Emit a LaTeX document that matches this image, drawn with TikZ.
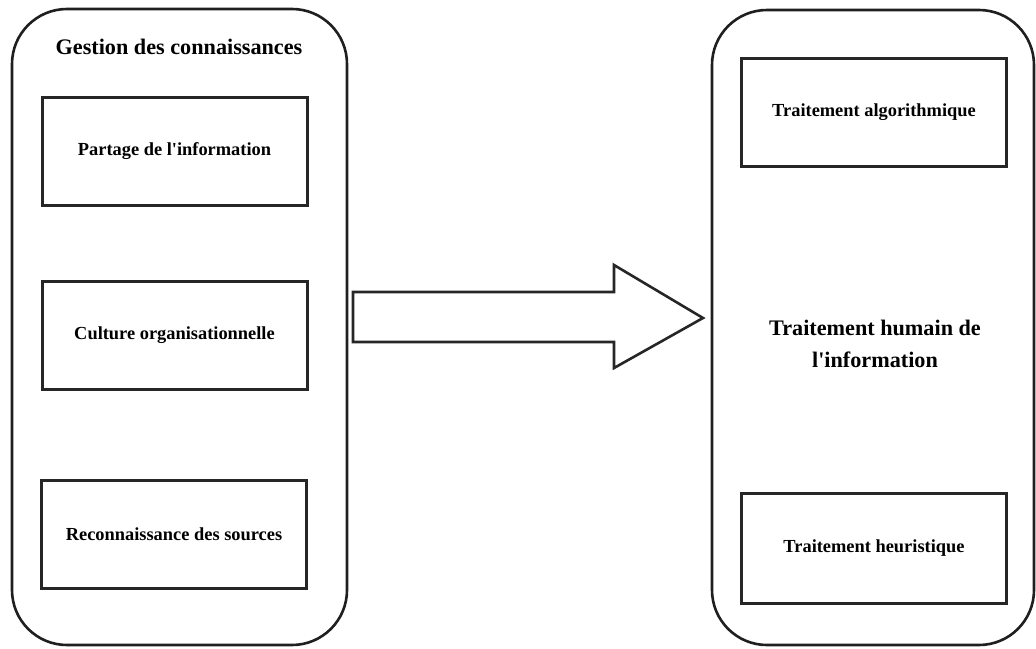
\documentclass[tikz,border=0pt]{standalone}
\usepackage{fontspec}
\newfontfamily\plainserif{Liberation Serif}
\begin{document}
\begin{tikzpicture}[x=1pt,y=-1pt,
  container/.style={draw=black!88,line width=2.6pt,rounded corners=55pt},
  itembox/.style={draw=black!85,line width=3pt,minimum width=265pt,minimum height=108pt,inner sep=0pt},
  itemtext/.style={font=\plainserif\bfseries\fontsize{18.4}{21}\selectfont},
  bigtext/.style={font=\plainserif\bfseries\fontsize{22.2}{32}\selectfont,align=center},
  blockarrow/.style={draw=black!85,line width=2.6pt,line join=miter}]
\useasboundingbox (0,0) rectangle (1036,648);
% containers
\draw[container] (12,9) rectangle (347,645);
\draw[container] (712,10) rectangle (1034,645);
\node[bigtext] (title) at (179,47) {Gestion des connaissances};
% left boxes
\node[itembox,itemtext] (b1) at (174.5,151) {Partage de l'information};
\node[itembox,itemtext] (b2) at (174.5,335) {Culture organisationnelle};
\node[itembox,itemtext] (b3) at (174,534) {Reconnaissance des sources};
% right boxes
\node[itembox,itemtext] (r1) at (874,112) {Traitement algorithmique};
\node[itembox,itemtext,minimum height=110pt] (r2) at (874,548) {Traitement heuristique};
\node[bigtext] (center) at (875,344) {Traitement humain de\\l'information};
% block arrow
\coordinate (a1) at (353,292);
\coordinate (tip) at (703,318);
\draw[blockarrow] (a1) -- (614,292) -- (614,265) -- (tip) -- (614,368) -- (614,342) -- (353,342) -- cycle;
\end{tikzpicture}
\end{document}
